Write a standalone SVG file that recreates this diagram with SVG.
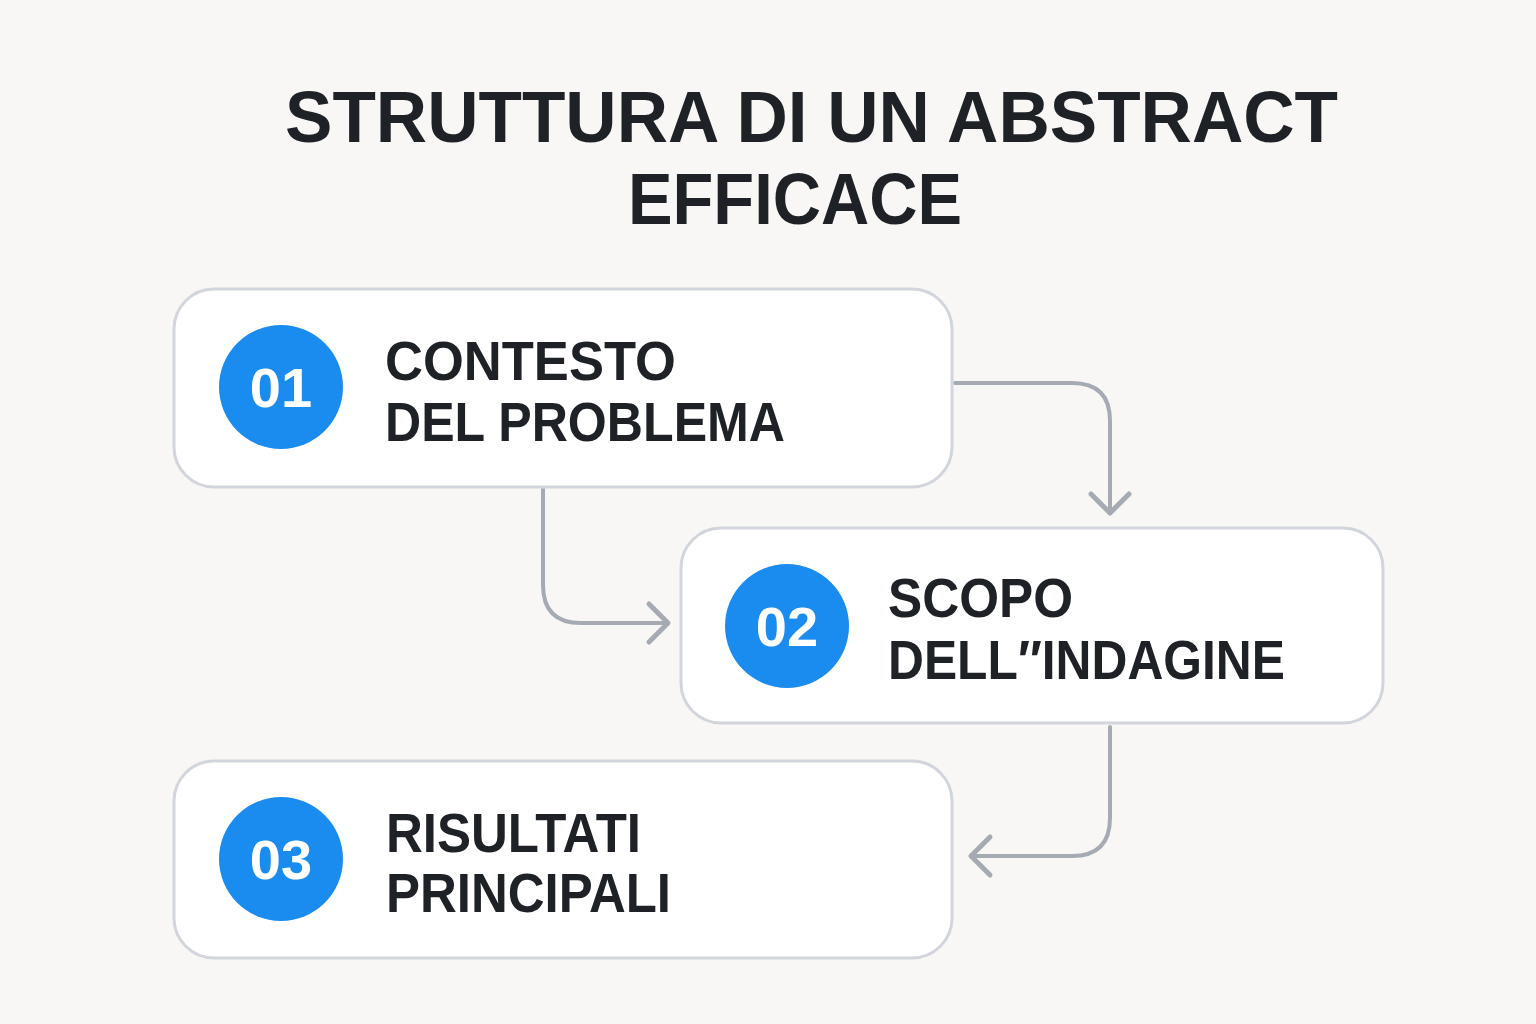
<svg xmlns="http://www.w3.org/2000/svg" width="1536" height="1024" viewBox="0 0 1536 1024">
  <defs>
    <style>
      .title { font-family: "Liberation Sans", Arial, sans-serif; font-weight: bold; font-size: 72px; fill: #1e2226; }
      .box { fill: #ffffff; stroke: #d2d5db; stroke-width: 3; }
      .badge { fill: #1a8cf0; }
      .num { font-family: "Liberation Sans", Arial, sans-serif; font-weight: bold; font-size: 56px; fill: #ffffff; text-anchor: middle; }
      .label { font-family: "Liberation Sans", Arial, sans-serif; font-weight: bold; font-size: 55px; fill: #1e2226; }
      .conn { fill: none; stroke: #a6abb3; stroke-width: 4; stroke-linecap: round; stroke-linejoin: round; }
    </style>
    <marker id="chev" markerUnits="userSpaceOnUse" viewBox="-24 -24 30 48" markerWidth="30" markerHeight="48" refX="0" refY="0" orient="auto" overflow="visible">
      <path d="M-19 -19 L0 0 L-19 19" fill="none" stroke="#a6abb3" stroke-width="5" stroke-linecap="round" stroke-linejoin="round"/>
    </marker>
  </defs>
  <rect width="1536" height="1024" fill="#f8f7f5"/>

  <g id="title">
    <text class="title" x="285" y="142" textLength="1053" lengthAdjust="spacingAndGlyphs">STRUTTURA DI UN ABSTRACT</text>
    <text class="title" x="628" y="224" textLength="334" lengthAdjust="spacingAndGlyphs">EFFICACE</text>
  </g>

  <g id="connectors">
    <path class="conn" d="M955 383 H1072 Q1110 383 1110 421 V513" marker-end="url(#chev)"/>
    <path class="conn" d="M543 489 V585 Q543 623 581 623 H668" marker-end="url(#chev)"/>
    <path class="conn" d="M1110 727 V818 Q1110 856 1072 856 H971" marker-end="url(#chev)"/>
  </g>

  <g id="node1">
    <rect class="box" x="174" y="289" width="778" height="198" rx="40"/>
    <circle class="badge" cx="281" cy="387" r="62"/>
    <text class="num" x="281" y="407">01</text>
    <text class="label" x="385" y="380" textLength="291" lengthAdjust="spacingAndGlyphs">CONTESTO</text>
    <text class="label" x="385" y="441" textLength="400" lengthAdjust="spacingAndGlyphs">DEL PROBLEMA</text>
  </g>

  <g id="node2">
    <rect class="box" x="681" y="528" width="702" height="195" rx="40"/>
    <circle class="badge" cx="787" cy="626" r="62"/>
    <text class="num" x="787" y="646">02</text>
    <text class="label" x="888" y="617" textLength="185" lengthAdjust="spacingAndGlyphs">SCOPO</text>
    <text class="label" x="888" y="679" textLength="397" lengthAdjust="spacingAndGlyphs">DELL″INDAGINE</text>
  </g>

  <g id="node3">
    <rect class="box" x="174" y="761" width="778" height="197" rx="40"/>
    <circle class="badge" cx="281" cy="859" r="62"/>
    <text class="num" x="281" y="879">03</text>
    <text class="label" x="386" y="852" textLength="255" lengthAdjust="spacingAndGlyphs">RISULTATI</text>
    <text class="label" x="386" y="912" textLength="285" lengthAdjust="spacingAndGlyphs">PRINCIPALI</text>
  </g>
</svg>
